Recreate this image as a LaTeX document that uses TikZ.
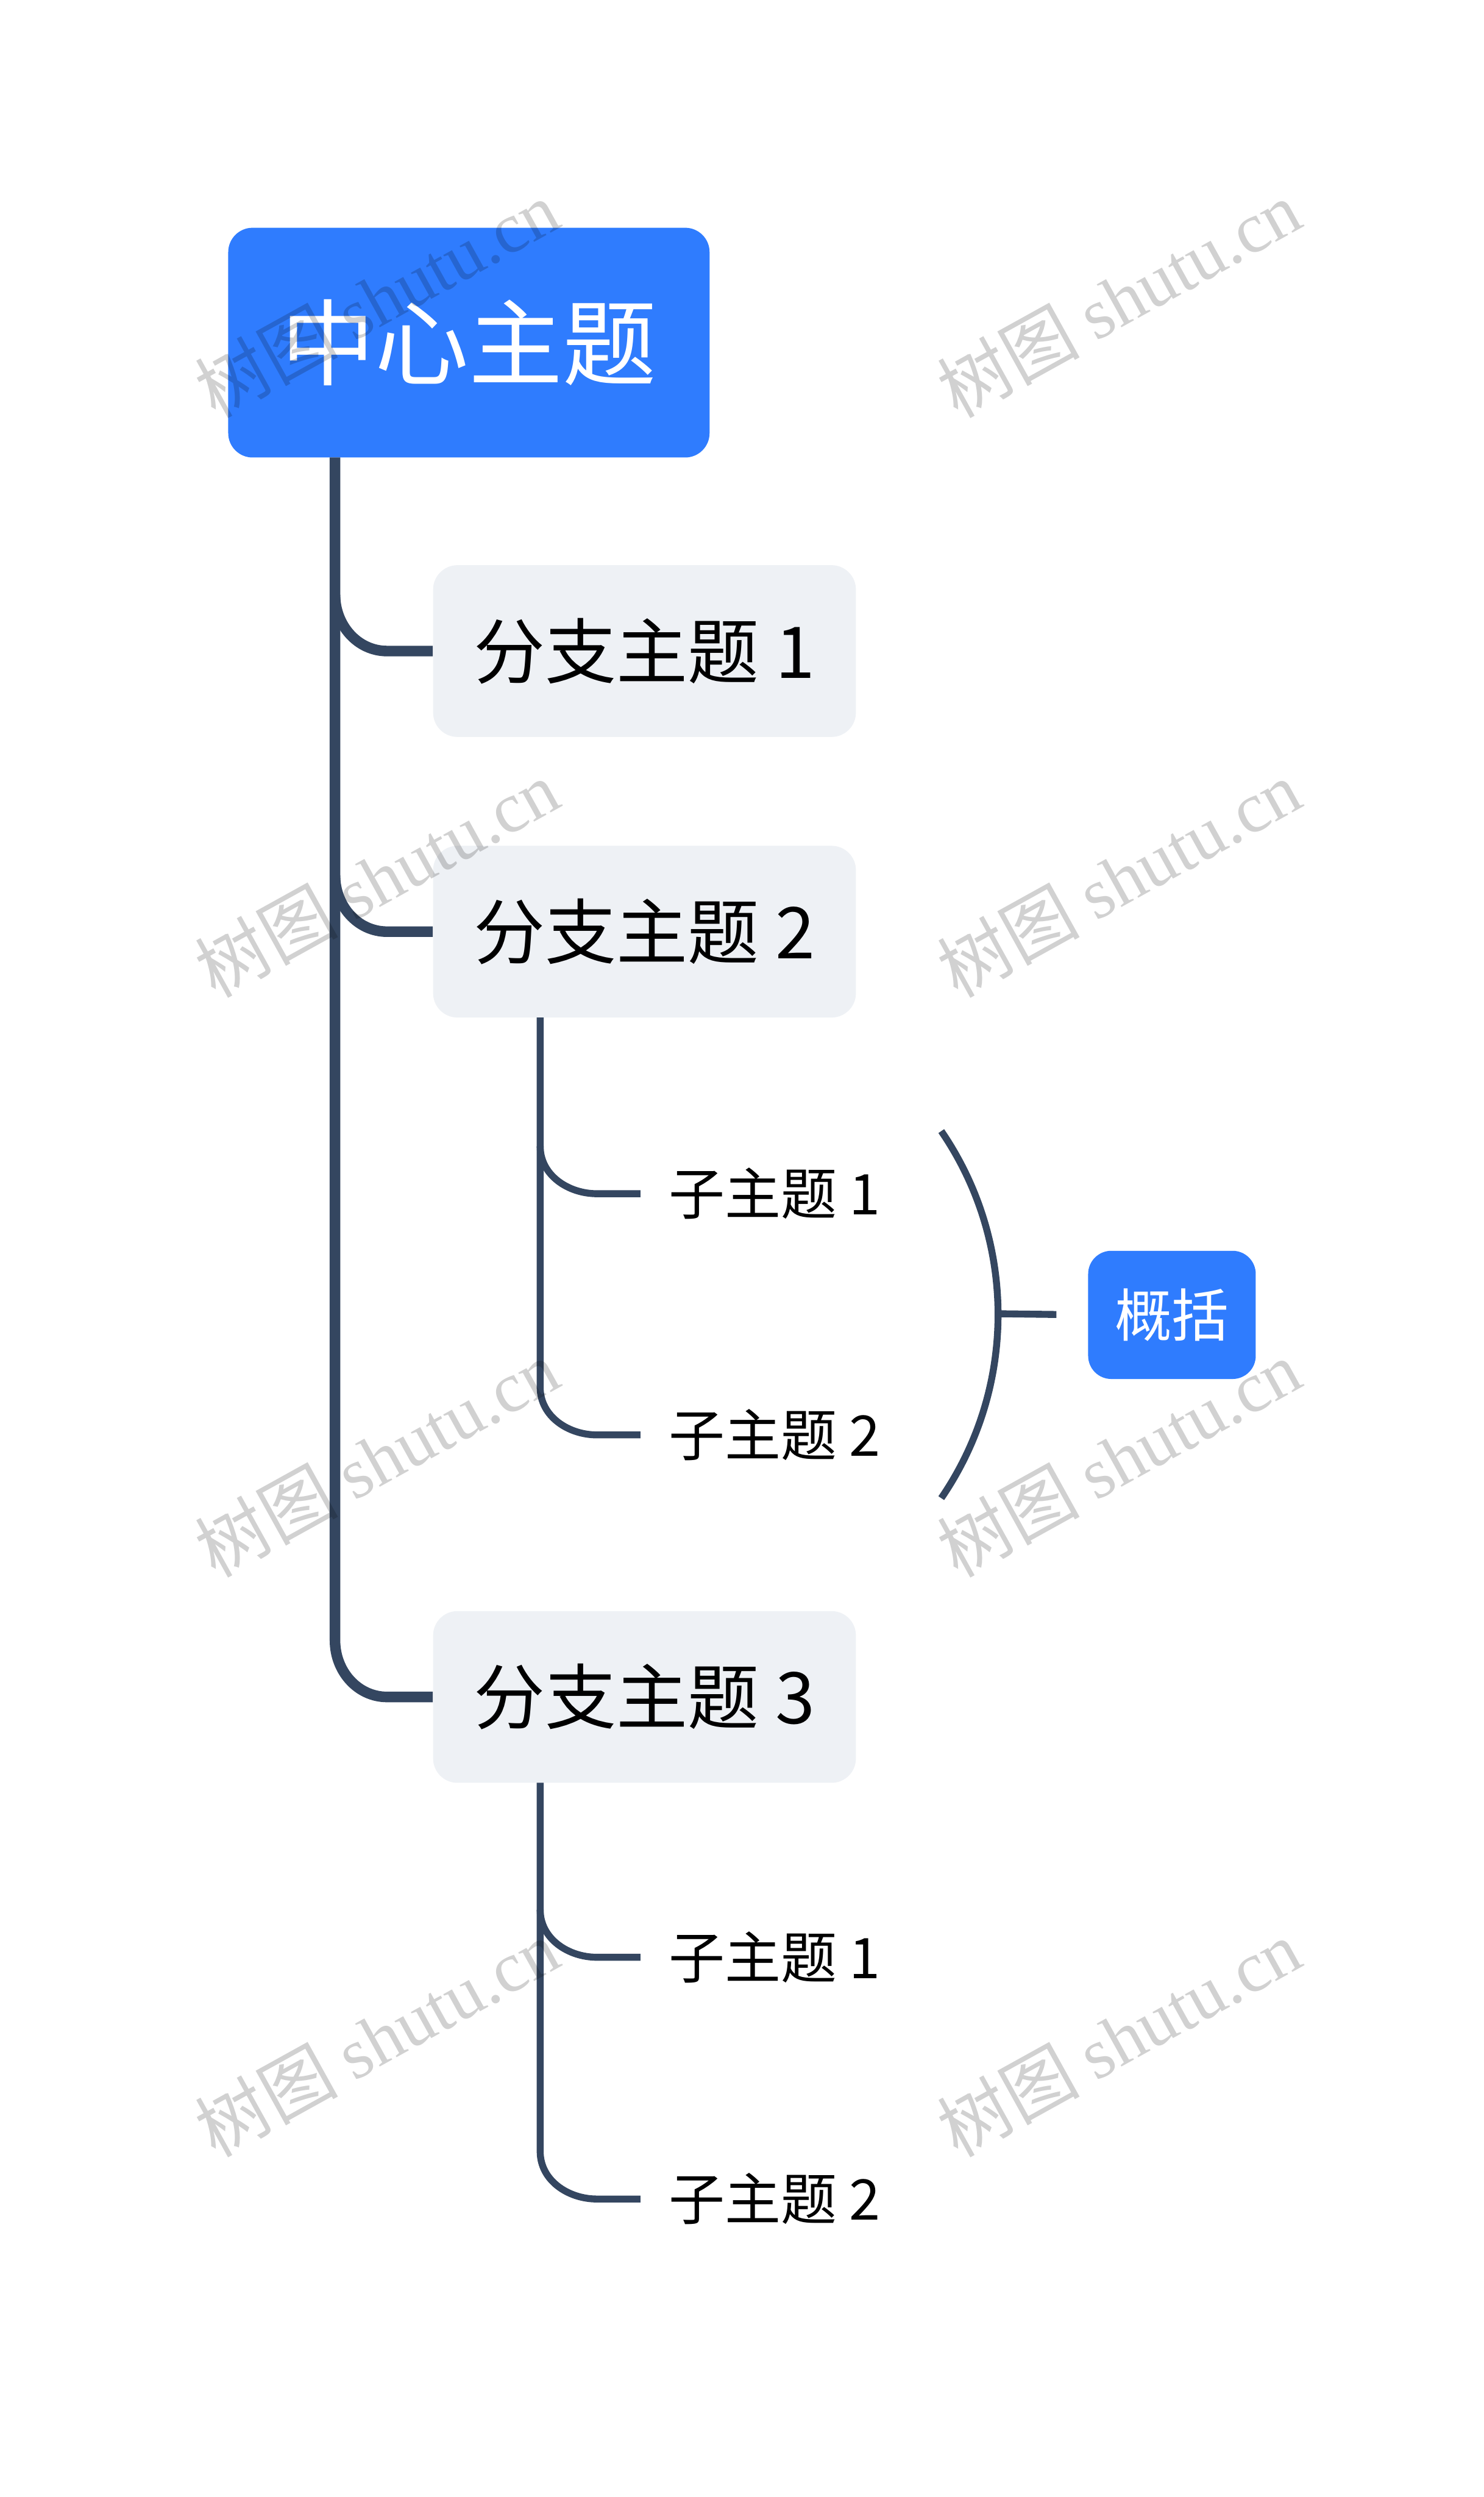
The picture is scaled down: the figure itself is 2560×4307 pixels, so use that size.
\documentclass[tikz,border=0pt]{standalone}
\usepackage{fontspec}
\usepackage{tikz}
\newfontfamily\cjk{Noto Sans CJK SC}
\newfontfamily\wmserif{Liberation Serif}
\definecolor{topicblue}{HTML}{2F7CFE}
\definecolor{linkgray}{HTML}{344660}
\definecolor{branchfill}{HTML}{EEF1F5}

\begin{document}
\begin{tikzpicture}[x=0.01cm,y=-0.01cm,
  central/.style={rectangle,rounded corners=0.42cm,fill=topicblue,text=white,minimum width=8.3cm,minimum height=3.96cm,font=\cjk\fontsize{46pt}{52pt}\selectfont},
  branch/.style={rectangle,rounded corners=0.42cm,fill=branchfill,text=black,minimum width=7.29cm,minimum height=2.96cm,font=\cjk\fontsize{35pt}{42pt}\selectfont},
  subtopic/.style={anchor=west,inner xsep=0.48cm,inner ysep=0pt,text=black,font=\cjk\fontsize{27.5pt}{33pt}\selectfont},
  sumbox/.style={rectangle,rounded corners=0.4cm,fill=topicblue,text=white,minimum width=2.89cm,minimum height=2.21cm,font=\cjk\fontsize{28pt}{34pt}\selectfont},
  mainline/.style={linkgray,line width=5.2pt},
  subline/.style={linkgray,line width=3.4pt},
  wmark/.style={rotate=29,text=black,text opacity=0.18,font=\cjk\fontsize{35pt}{40pt}\selectfont}]
\fill[white] (0,0) rectangle (2560,4307);
\useasboundingbox (0,0) rectangle (2560,4307);

\node [central] (c) at (809,591) {中心主题};
\node [branch] (b1) at (1112,1123) {分支主题 1};
\node [branch] (b2) at (1112,1607) {分支主题 2};
\node [branch] (b3) at (1112,2927) {分支主题 3};
\node [subtopic] (s1) at (1105,2059) {子主题 1};
\node [subtopic] (s2) at (1105,2475) {子主题 2};
\node [subtopic] (s3) at (1105,3376) {子主题 1};
\node [subtopic] (s4) at (1105,3793) {子主题 2};
\node [sumbox] (g) at (2022,2268) {概括};

% trunk from the central topic
\coordinate (t0) at (578,789);
\coordinate (t1) at (578,1026);
\coordinate (t2) at (578,1510);
\coordinate (t3) at (578,2830);
\coordinate (k1) at (668,1123);
\coordinate (k2) at (668,1607);
\coordinate (k3) at (668,2927);
\draw[mainline] (t0) -- (t3) to[out=-90,in=180] (k3) -- (b3.west);
\draw[mainline] (t1) to[out=-90,in=180] (k1) -- (b1.west);
\draw[mainline] (t2) to[out=-90,in=180] (k2) -- (b2.west);

% sub topics of branch 2
\coordinate (u0) at (932,1755);
\coordinate (u1) at (932,1977);
\coordinate (u2) at (932,2393);
\coordinate (v1) at (1030,2059);
\coordinate (v2) at (1030,2475);
\draw[subline] (u0) -- (u2) to[out=-90,in=180] (v2) -- (s2.west);
\draw[subline] (u1) to[out=-90,in=180] (v1) -- (s1.west);

% sub topics of branch 3
\coordinate (w0) at (932,3075);
\coordinate (w1) at (932,3294);
\coordinate (w2) at (932,3711);
\coordinate (x1) at (1030,3376);
\coordinate (x2) at (1030,3793);
\draw[subline] (w0) -- (w2) to[out=-90,in=180] (x2) -- (s4.west);
\draw[subline] (w1) to[out=-90,in=180] (x1) -- (s3.west);

% summary bracket
\coordinate (q1) at (1624,1951);
\coordinate (q2) at (1722,2266);
\draw[subline] (q1) arc[start angle=34.4,end angle=-34.4,radius=5.6cm];
\draw[subline,shorten >=0.54cm] (q2) -- (g.west);

% watermarks
\node [wmark] (m1) at (650,515) {树图 {\wmserif shutu.cn}};
\node [wmark] (m2) at (1930,515) {树图 {\wmserif shutu.cn}};
\node [wmark] (m3) at (650,1515) {树图 {\wmserif shutu.cn}};
\node [wmark] (m4) at (1930,1515) {树图 {\wmserif shutu.cn}};
\node [wmark] (m5) at (650,2515) {树图 {\wmserif shutu.cn}};
\node [wmark] (m6) at (1930,2515) {树图 {\wmserif shutu.cn}};
\node [wmark] (m7) at (650,3515) {树图 {\wmserif shutu.cn}};
\node [wmark] (m8) at (1930,3515) {树图 {\wmserif shutu.cn}};
\end{tikzpicture}
\end{document}
